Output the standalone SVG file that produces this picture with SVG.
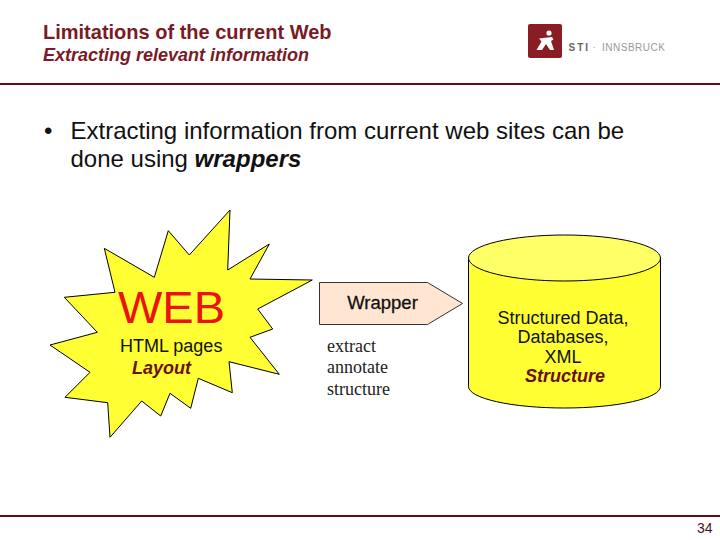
<svg xmlns="http://www.w3.org/2000/svg" width="720" height="540" viewBox="0 0 720 540">
<style>
text{font-family:"Liberation Sans",Arial,sans-serif}
.title{fill:#7a1a26;font-weight:bold}
.rule{stroke:#5e1218;stroke-width:2;fill:none}
.shape{stroke:#000;stroke-width:1}
.yellow{fill:#ffff33}
.serif{font-family:"Liberation Serif","Times New Roman",serif;font-size:18px;fill:#222}
.mid{text-anchor:middle}
.label{font-size:18px;fill:#111}
.accent{font-size:18px;font-weight:bold;font-style:italic;fill:#6b0f0f}
</style>
<rect width="720" height="540" fill="#fff"/>
<g id="header">
<text class="title" x="43" y="38.500" font-size="20">Limitations of the current Web</text>
<text class="title" x="43" y="60.500" font-size="18" font-style="italic">Extracting relevant information</text>
<line class="rule" x1="0" y1="84" x2="720" y2="84"/>
</g>
<g id="logo">
<rect x="528" y="24" width="34" height="34" rx="2" fill="#8a1c24"/>
<circle cx="549" cy="33" r="2.600" fill="#fff"/>
<path d="M539 38.500 L552 37 L553.500 39.500 L551 41 L554 50 L550 50 L546 44 L542 50 L536.500 50 L541.500 41.500 Z" fill="#fff"/>
<text x="568.500" y="51" font-size="10" font-weight="bold" fill="#666" textLength="19.500">STI</text>
<text x="592.500" y="51" font-size="10" fill="#999">·</text>
<text x="602" y="51" font-size="10" fill="#999" textLength="63">INNSBRUCK</text>
</g>
<g id="bullets" font-size="24" fill="#111">
<text x="44" y="138.500">•</text>
<text x="70.500" y="138.500">Extracting information from current web sites can be</text>
<text x="70.500" y="166.500">done using <tspan font-weight="bold" font-style="italic">wrappers</tspan></text>
</g>
<g id="web">
<polygon class="shape yellow" points="230,210 227.700,270 269.300,244 250,279 312.300,280 257.700,309 272.700,329 250,337.300 279.300,374.300 229,361.700 232.300,392.700 198.300,378.300 190.700,408.300 170,393.300 160.700,416 141.700,401 110,437.300 107.700,402.700 65,397.300 90,372.300 50,345 97.300,332.300 64.300,297.300 115,292.300 104.300,248.300 154.300,277.300 168.300,230.700 189.300,255"/>
<text x="118" y="323" font-size="45" fill="#ee1111" textLength="107" lengthAdjust="spacingAndGlyphs">WEB</text>
<text x="120" y="352" class="label">HTML pages</text>
<text x="132" y="373.500" class="accent">Layout</text>
</g>
<g id="wrapper">
<polygon points="319.500,282.500 427.500,282.500 462.500,303.500 427.500,324.500 319.500,324.500" fill="#ffe6d2" stroke="#333" stroke-width="1"/>
<text x="382.500" y="309" class="label mid" style="font-size:18.500px" stroke="#111" stroke-width="0.300">Wrapper</text>
<text x="327" y="352" class="serif">extract</text>
<text x="327" y="373" class="serif">annotate</text>
<text x="327" y="395" class="serif">structure</text>
</g>
<g id="database">
<path class="shape yellow" d="M468.500 258 V386.500 A96 21.500 0 0 0 660.500 386.500 V258 Z"/>
<ellipse class="shape" cx="564.500" cy="258" rx="96" ry="23" fill="#ffff66"/>
<text x="563" y="323.500" class="label mid">Structured Data,</text>
<text x="563" y="343" class="label mid">Databases,</text>
<text x="563" y="362.500" class="label mid">XML</text>
<text x="565" y="382" class="accent mid">Structure</text>
</g>
<g id="footer">
<line class="rule" x1="0" y1="516" x2="720" y2="516"/>
<text x="697" y="533" font-size="14" fill="#4a1218">34</text>
</g>
</svg>
